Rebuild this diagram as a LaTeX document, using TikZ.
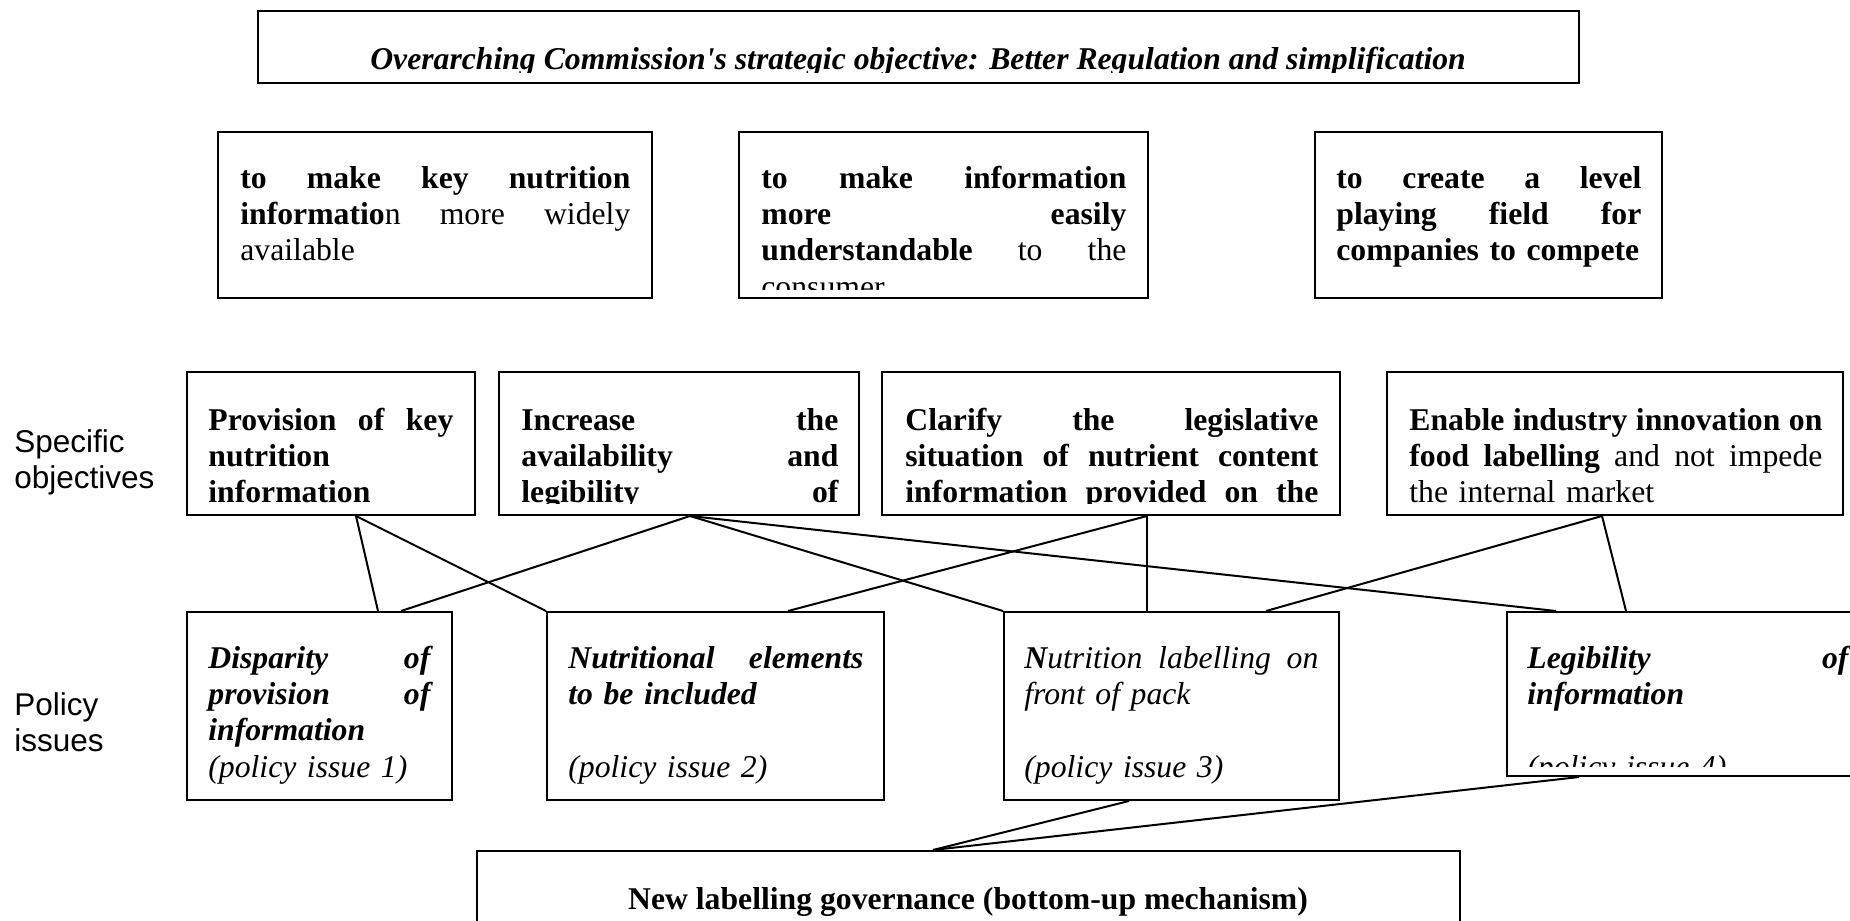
\documentclass[tikz,border=0pt]{standalone}
\usepackage{fontspec}
\setmainfont{Liberation Serif}
\setsansfont{Liberation Sans}
\usetikzlibrary{fit,calc}
\newcommand{\ws}{\hskip 0.25em plus 1fill\relax}
\newcommand{\jl}[2]{\leavevmode\hbox to #1{#2}}
\begin{document}
\begin{tikzpicture}[x=0.5pt,y=-0.5pt,
  box/.style={draw, line width=1pt, inner sep=0pt, fit={#1}},
  txt/.style={anchor=base west, inner sep=0pt, align=left, font=\fontsize{15.85}{18.2}\selectfont},
  ctr/.style={anchor=base, inner sep=0pt, font=\fontsize{15.85}{18.2}\selectfont\bfseries},
  lab/.style={anchor=base west, inner sep=0pt, align=left, text width=90pt, font=\sffamily\fontsize{15.75}{18}\selectfont},
  conn/.style={line width=1pt}]
\useasboundingbox (0,0) rectangle (1850,920);

% boxes
\node[box={(258,11) (1579,83)}] (top) {};
\node[box={(218,132) (652,298)}] (ga) {};
\node[box={(739,132) (1148,298)}] (gb) {};
\node[box={(1315,132) (1662,298)}] (gc) {};
\node[box={(187,372) (475,515)}] (s1) {};
\node[box={(499,372) (859,515)}] (s2) {};
\node[box={(882,372) (1340,515)}] (s3) {};
\node[box={(1387,372) (1843,515)}] (s4) {};
\node[box={(187,612) (452,800)}] (p1) {};
\node[box={(547,612) (884,800)}] (p2) {};
\node[box={(1004,612) (1339,800)}] (p3) {};
\node[box={(1507,612) (1900,776)}] (p4) {};
\node[box={(477,851) (1460,960)}] (nb) {};

% top text
\begin{scope}
\clip (260,12) rectangle (1578,73);
\node[ctr] (topt) at (918,70) {\itshape Overarching Commission\textquotesingle s strategic objective: Better Regulation and simplification};
\end{scope}

% goals
\begin{scope}
\clip (220,133) rectangle (650,289);
\node[txt, text width=195pt] (gat) at (240,188) {\jl{195pt}{\bfseries to\ws make\ws key\ws nutrition}\\\jl{195pt}{\textbf{informatio}n\ws more\ws widely}\\available};
\end{scope}
\begin{scope}
\clip (741,133) rectangle (1146,289);
\node[txt, text width=182.5pt] (gbt) at (761,188) {\jl{182.5pt}{\bfseries to\ws make\ws information}\\\jl{182.5pt}{\bfseries more\ws easily}\\\jl{182.5pt}{\textbf{understandable}\ws to\ws the}\\consumer};
\end{scope}
\begin{scope}
\clip (1317,133) rectangle (1660,289);
\node[txt, text width=152.5pt] (gct) at (1336,188) {\jl{152.5pt}{\bfseries to\ws create\ws a\ws level}\\\jl{152.5pt}{\bfseries playing\ws field\ws for}\\\textbf{companies to compete}};
\end{scope}

% specific objectives
\begin{scope}
\clip (188,373) rectangle (474,503);
\node[txt, text width=122.5pt] (s1t) at (208,430) {\bfseries\jl{122.5pt}{Provision\ws of\ws key}\\nutrition\\information};
\end{scope}
\begin{scope}
\clip (500,373) rectangle (858,503);
\node[txt, text width=158.5pt] (s2t) at (521,430) {\bfseries\jl{158.5pt}{Increase\ws the}\\\jl{158.5pt}{availability\ws and}\\\jl{158.5pt}{legibility\ws of}};
\end{scope}
\begin{scope}
\clip (883,373) rectangle (1339,503);
\node[txt, text width=206.5pt] (s3t) at (905,430) {\bfseries\jl{206.5pt}{Clarify\ws the\ws legislative}\\\jl{206.5pt}{situation\ws of\ws nutrient\ws content}\\\jl{206.5pt}{information\ws provided\ws on\ws the}};
\end{scope}
\begin{scope}
\clip (1388,373) rectangle (1842,503);
\node[txt, text width=206.5pt] (s4t) at (1409,430) {\jl{206.5pt}{\bfseries Enable\ws industry\ws innovation\ws on}\\\jl{206.5pt}{\textbf{food\ws labelling}\ws and\ws not\ws impede}\\the internal market};
\end{scope}

% policy issues
\node[txt, text width=111pt] (p1t) at (208,668) {\itshape\jl{111pt}{\bfseries Disparity\ws of}\\\jl{111pt}{\bfseries provision\ws of}\\\textbf{information}\\(policy issue 1)};
\node[txt, text width=147.5pt] (p2t) at (568,668) {\itshape\jl{147.5pt}{\bfseries Nutritional\ws elements}\\\textbf{to be included}\\\mbox{}\\(policy issue 2)};
\node[txt, text width=147pt] (p3t) at (1024,668) {\itshape\jl{147pt}{\textbf{N}utrition\ws labelling\ws on}\\front of pack\\\mbox{}\\(policy issue 3)};
\begin{scope}
\clip (1508,613) rectangle (1850,766);
\node[txt, text width=160.5pt] (p4t) at (1527,668) {\itshape\jl{160.5pt}{\bfseries Legibility\ws of}\\\textbf{information}\\\mbox{}\\(policy issue 4)};
\end{scope}

% bottom
\node[ctr] (nbt) at (968,909) {New labelling governance (bottom-up mechanism)};

% side labels
\node[lab] (lso) at (14,452) {Specific\\objectives};
\node[lab] (lpi) at (14,715) {Policy\\issues};

% connectors
\coordinate (s1b) at ($(s1.south west)+(170,0)$);
\coordinate (s2b) at ($(s2.south west)+(192,0)$);
\coordinate (s3b) at ($(s3.south west)+(266,0)$);
\coordinate (s4b) at ($(s4.south west)+(216,0)$);
\coordinate (nbt0) at ($(nb.north west)+(457,0)$);
\draw[conn] (s1b) -- ($(p1.north west)+(192,0)$);
\draw[conn] (s1b) -- (p2.north west);
\draw[conn] (s2b) -- ($(p1.north west)+(215,0)$);
\draw[conn] (s2b) -- (p3.north west);
\draw[conn] (s2b) -- ($(p4.north west)+(50,0)$);
\draw[conn] (s3b) -- ($(p2.north west)+(242,0)$);
\draw[conn] (s3b) -- ($(p3.north west)+(144,0)$);
\draw[conn] (s4b) -- ($(p3.north west)+(263,0)$);
\draw[conn] (s4b) -- ($(p4.north west)+(120,0)$);
\draw[conn] ($(p3.south west)+(126,0)$) -- (nbt0);
\draw[conn] ($(p4.south west)+(73,0)$) -- (nbt0);
\end{tikzpicture}
\end{document}
